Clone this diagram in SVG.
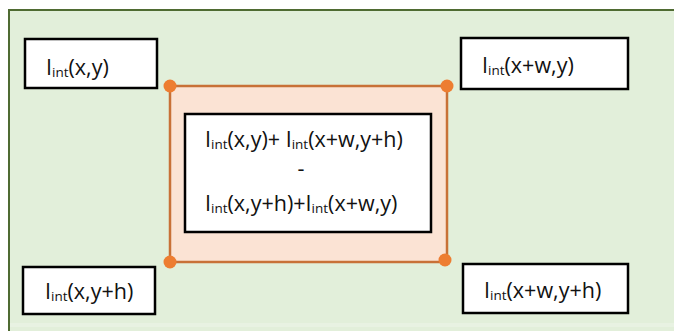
<svg xmlns="http://www.w3.org/2000/svg" width="674" height="331" viewBox="0 0 674 331">
<style>
.lbl{fill:#fff;stroke:#000;stroke-width:2.5}
.t{font-family:"Open Sans","Liberation Sans",sans-serif;font-size:21.5px;fill:#111}
.s{font-size:13.5px}
.dot{fill:#ed7d31}
</style>
<rect x="0" y="0" width="674" height="331" fill="#ffffff"/>
<g id="frame">
<rect x="9" y="10" width="680" height="340" fill="#e2efda" stroke="#4f6b32" stroke-width="2"/>
<rect x="10" y="323" width="664" height="4" fill="#e8f2e2"/>
</g>
<g id="region">
<rect x="170" y="86" width="277" height="176" fill="#fbe3d4" stroke="#c87137" stroke-width="2.5"/>
</g>
<g id="formula">
<rect class="lbl" x="185" y="114" width="246" height="118"/>
<text class="t" x="205" y="147">I<tspan class="s" dy="2">int</tspan><tspan dy="-2">(x,y)+ I</tspan><tspan class="s" dy="2">int</tspan><tspan dy="-2">(x+w,y+h)</tspan></text>
<text class="t" x="301" y="176" text-anchor="middle">-</text>
<text class="t" x="205" y="211">I<tspan class="s" dy="2">int</tspan><tspan dy="-2">(x,y+h)+I</tspan><tspan class="s" dy="2">int</tspan><tspan dy="-2">(x+w,y)</tspan></text>
</g>
<g id="connectors">
<circle class="dot" cx="170" cy="86" r="6.5"/>
<circle class="dot" cx="447" cy="86" r="6.5"/>
<circle class="dot" cx="170" cy="262" r="6.5"/>
<circle class="dot" cx="445" cy="260" r="6.5"/>
</g>
<g id="tl">
<rect class="lbl" x="25" y="39" width="132" height="49"/>
<text class="t" x="46" y="75">I<tspan class="s" dy="2">int</tspan><tspan dy="-2">(x,y)</tspan></text>
</g>
<g id="tr">
<rect class="lbl" x="461" y="38" width="167" height="51"/>
<text class="t" x="482" y="73">I<tspan class="s" dy="2">int</tspan><tspan dy="-2">(x+w,y)</tspan></text>
</g>
<g id="bl">
<rect class="lbl" x="23" y="267" width="132" height="47"/>
<text class="t" x="45" y="299">I<tspan class="s" dy="2">int</tspan><tspan dy="-2">(x,y+h)</tspan></text>
</g>
<g id="br">
<rect class="lbl" x="463" y="264" width="165" height="49"/>
<text class="t" x="484" y="298">I<tspan class="s" dy="2">int</tspan><tspan dy="-2">(x+w,y+h)</tspan></text>
</g>
</svg>
